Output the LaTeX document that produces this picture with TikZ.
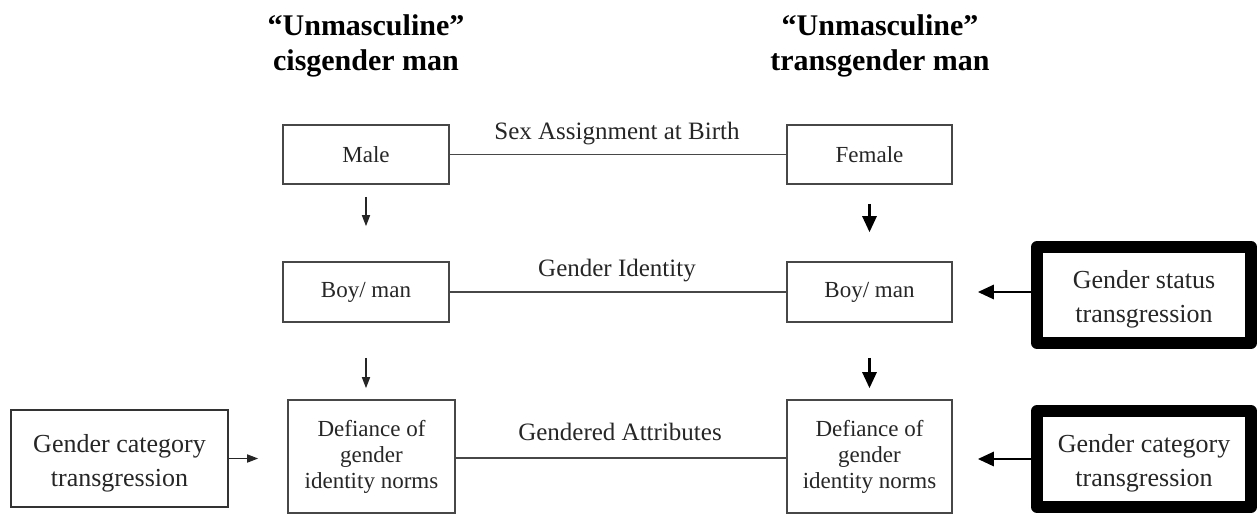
\documentclass[tikz,border=0pt]{standalone}
\usepackage{fontspec}
\setmainfont{Liberation Serif}
\usetikzlibrary{arrows.meta}
% two centred lines, set a little below the middle of their box
\newcommand{\twolines}[2]{\raisebox{-2pt}[\height][\depth]{\begin{tabular}{@{}c@{}}#1\\#2\end{tabular}}}
\begin{document}
\begin{tikzpicture}[x=0.5pt,y=-0.5pt,
  thinbox/.style={draw=black!72,line width=0.8pt,fill=white,align=center,
    inner sep=0pt,font=\fontsize{11.5}{13}\selectfont,text=black!85},
  heavybox/.style={draw=black,line width=6pt,line join=round,fill=white,
    inner sep=0pt,font=\fontsize{13}{17}\selectfont,text=black!85},
  plainbox/.style={draw=black!80,line width=0.9pt,fill=white,
    inner sep=0pt,font=\fontsize{13}{17}\selectfont,text=black!85},
  title/.style={align=center,font=\fontsize{15}{17.5}\selectfont\bfseries},
  rowlabel/.style={font=\fontsize{12.5}{14}\selectfont,text=black!85},
  link/.style={draw=black!72,line width=0.8pt},
  thinarrow/.style={draw=black!85,line width=0.8pt,-{Triangle[length=5.5pt,width=4pt]}},
  boldarrow/.style={draw=black,line width=1.4pt,-{Triangle[length=8pt,width=7pt]}}]
  \useasboundingbox (0,0) rectangle (1257,515);

  % column headings
  \node[title] (hcis) at (366,46) {``Unmasculine''\\cisgender man};
  \node[title] (htrans) at (880,46) {``Unmasculine''\\transgender man};

  % left column (cisgender)
  \node[thinbox,minimum width=83pt,minimum height=29.5pt] (male) at (366,154.5) {Male};
  \node[thinbox,minimum width=83pt,minimum height=30pt] (boyL) at (366,292) {Boy/ man};
  \node[thinbox,minimum width=83.5pt,minimum height=56.5pt] (defL) at (371.5,456.5)
    {Defiance of\\gender\\identity norms};

  % right column (transgender)
  \node[thinbox,minimum width=82.5pt,minimum height=29.5pt] (female) at (869.5,154.5) {Female};
  \node[thinbox,minimum width=82.5pt,minimum height=30pt] (boyR) at (869.5,292) {Boy/ man};
  \node[thinbox,minimum width=82.5pt,minimum height=56.5pt] (defR) at (869.5,456.5)
    {Defiance of\\gender\\identity norms};

  % transgression boxes
  \node[plainbox,minimum width=108.5pt,minimum height=48.5pt] (gcL) at (119.5,458.5)
    {\twolines{Gender category}{transgression}};
  \node[heavybox,minimum width=107pt,minimum height=48pt] (gsR) at (1144,295)
    {\twolines{Gender status}{transgression}};
  \node[heavybox,minimum width=107pt,minimum height=48pt] (gcR) at (1144,459)
    {\twolines{Gender category}{transgression}};

  % horizontal links with their labels
  \draw[link] (male.east) -- (female.west);
  \draw[link] (boyL.east) -- (boyR.west);
  \draw[link] (defL.east|-0,458) -- (defR.west|-0,458);
  \node[rowlabel] (lsex) at (617,134) {Sex Assignment at Birth};
  \node[rowlabel] (lid) at (617,271) {Gender Identity};
  \node[rowlabel] (lattr) at (620,432) {Gendered Attributes};

  % downward arrows
  \draw[thinarrow,shorten <=6pt,shorten >=17.5pt] (male.south) -- (boyL.north);
  \draw[thinarrow,shorten <=17.5pt,shorten >=5.5pt] (boyL.south) -- (boyL.south|-defL.north);
  \draw[boldarrow,shorten <=9.5pt,shorten >=14.5pt] (female.south) -- (boyR.north);
  \draw[boldarrow,shorten <=17.5pt,shorten >=5.5pt] (boyR.south) -- (defR.north);

  % arrows from the transgression boxes
  \draw[thinarrow,shorten >=14.5pt] (gcL.east) -- (defL.west|-gcL.east);
  \draw[boldarrow,shorten >=12.5pt] (gsR.west|-boyR.east) -- (boyR.east);
  \draw[boldarrow,shorten >=12.5pt] (gcR.west) -- (defR.east|-gcR.west);
\end{tikzpicture}
\end{document}
